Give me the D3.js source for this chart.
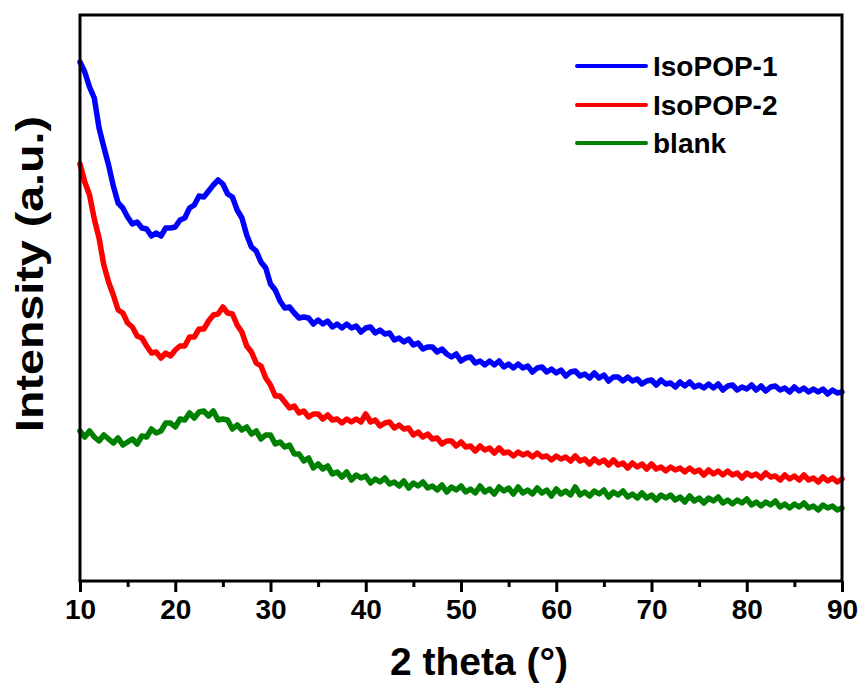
<!DOCTYPE html>
<html><head><meta charset="utf-8">
<script src="https://cdn.jsdelivr.net/npm/d3@7"></script>
<style>
html,body{margin:0;padding:0;background:#fff;}
svg{display:block;font-family:Arial,"Liberation Sans",sans-serif;}
</style></head>
<body><svg id="chart" width="863" height="686"></svg>
<script>
// 2 theta grid (degrees), 0.5° steps from 10 to 90
const theta = d3.range(10, 90.001, 0.5);
const xTicks = [10, 20, 30, 40, 50, 60, 70, 80, 90];
const xMinorTicks = [15, 25, 35, 45, 55, 65, 75, 85];
const seriesNames = ["IsoPOP-1", "IsoPOP-2", "blank"];
const seriesColors = ["#0000ff", "#ff0000", "#008000"];

// Intensity (a.u.)
const isoPOP1 = [519,509,494,483,453,434,416,395,378,373,364,357,359,353,352,345,348,345,353,353,
354,361,363,373,376,385,384,390,396,401,397,387,384,371,363,346,334,330,319,313,
297,291,280,273,274,268,263,264,263,257,261,257,260,254,257,253,257,253,255,249,
253,254,248,251,247,248,241,243,239,242,236,238,232,234,234,229,232,227,224,227,
220,223,224,218,220,216,220,216,220,214,217,213,217,213,215,209,213,214,209,212,
208,211,205,209,210,205,207,203,208,203,206,200,204,204,200,204,200,202,197,200,
201,196,201,197,198,194,199,195,199,194,196,193,197,193,197,191,195,196,191,194,
192,196,191,195,190,194,195,191,193,189,194,190,193,189,192,189,192,187,191,188,189];

const isoPOP2 = [417,399,386,362,343,316,299,286,271,268,258,254,245,243,235,228,229,223,228,225,
231,235,235,244,244,252,252,260,266,267,274,268,267,256,249,235,229,218,215,203,
196,185,185,179,173,175,168,170,164,167,167,162,166,161,162,158,162,159,162,159,
167,159,161,155,158,159,153,156,152,153,146,149,144,147,142,143,137,140,140,135,
139,134,135,130,135,131,133,128,133,128,129,125,129,126,128,124,128,124,125,121,
125,122,124,120,125,120,122,117,122,118,121,116,121,116,118,113,118,114,117,112,
117,112,114,110,114,111,113,109,113,109,111,106,111,107,110,106,110,106,108,103,
108,105,107,103,108,104,105,101,106,102,105,101,106,101,103,99,104,100,103,99,102];

const blank = [150,144,150,144,140,146,142,138,143,136,139,142,137,145,144,152,148,150,158,158,
154,162,161,168,163,169,170,165,170,161,162,161,152,156,151,154,147,150,142,146,
146,137,139,134,136,127,127,120,123,113,117,112,115,107,109,104,109,101,106,103,
105,98,102,99,103,97,99,95,100,93,98,95,99,93,95,91,96,89,94,91,
95,89,92,88,95,89,92,87,94,90,93,87,94,88,91,87,93,88,91,85,
92,87,90,86,94,86,89,85,90,87,91,84,89,86,90,84,87,83,88,83,
86,81,86,83,86,81,84,79,85,80,83,78,83,80,84,78,81,77,81,78,
82,76,79,75,79,76,80,74,77,73,77,74,78,73,75,71,76,73,75,71,73];

const seriesValues = [isoPOP1, isoPOP2, blank];

const svg = d3.select("#chart");
const m = {left: 80, right: 842, top: 15, bottom: 581};
const x = d3.scaleLinear().domain([10, 90]).range([m.left, m.right]);
const y = d3.scaleLinear().domain([0, 566]).range([m.bottom, m.top]);

// curves
const line = d3.line().x((d, i) => x(theta[i])).y(d => y(d));
const g = svg.append("g");
seriesValues.forEach((vals, k) => {
  g.append("path").datum(vals)
    .attr("d", line)
    .attr("fill", "none")
    .attr("stroke", seriesColors[k])
    .attr("stroke-width", 5.5)
    .attr("stroke-linejoin", "round")
    .attr("stroke-linecap", "round");
});

// frame
svg.append("rect")
  .attr("x", m.left).attr("y", m.top)
  .attr("width", m.right - m.left).attr("height", m.bottom - m.top)
  .attr("fill", "none").attr("stroke", "#000").attr("stroke-width", 3);

// bottom axis
const xAxis = d3.axisBottom(x).tickValues(xTicks).tickSize(11).tickPadding(7).tickFormat(d3.format("d"));
const ax = svg.append("g").attr("transform", `translate(0,${m.bottom})`).call(xAxis);
ax.select(".domain").remove();
ax.selectAll(".tick line").attr("stroke", "#000").attr("stroke-width", 3);
ax.selectAll(".tick text").attr("fill", "#000").attr("font-size", 28).attr("font-weight", "bold")
  .attr("font-family", "Arial, 'Liberation Sans', sans-serif");
const xMinor = d3.axisBottom(x).tickValues(xMinorTicks).tickSize(6).tickFormat("");
const axm = svg.append("g").attr("transform", `translate(0,${m.bottom})`).call(xMinor);
axm.select(".domain").remove();
axm.selectAll(".tick line").attr("stroke", "#000").attr("stroke-width", 3);

// axis titles
svg.append("text").attr("x", 479).attr("y", 675).attr("text-anchor", "middle")
  .attr("font-size", 39).attr("font-weight", "bold").attr("fill", "#000")
  .text("2 theta (°)");
svg.append("text").attr("transform", "translate(43,274) rotate(-90)").attr("text-anchor", "middle")
  .attr("font-size", 39).attr("font-weight", "bold").attr("fill", "#000")
  .attr("textLength", 316).attr("lengthAdjust", "spacingAndGlyphs")
  .text("Intensity (a.u.)");

// legend
const legY = [66, 105, 143];
seriesNames.forEach((name, k) => {
  svg.append("line").attr("x1", 577).attr("x2", 646).attr("y1", legY[k]).attr("y2", legY[k])
    .attr("stroke", seriesColors[k]).attr("stroke-width", 4).attr("stroke-linecap", "round");
  svg.append("text").attr("x", 653).attr("y", legY[k] + 10)
    .attr("font-size", 28).attr("font-weight", "bold").attr("fill", "#000").text(name);
});
</script></body></html>
